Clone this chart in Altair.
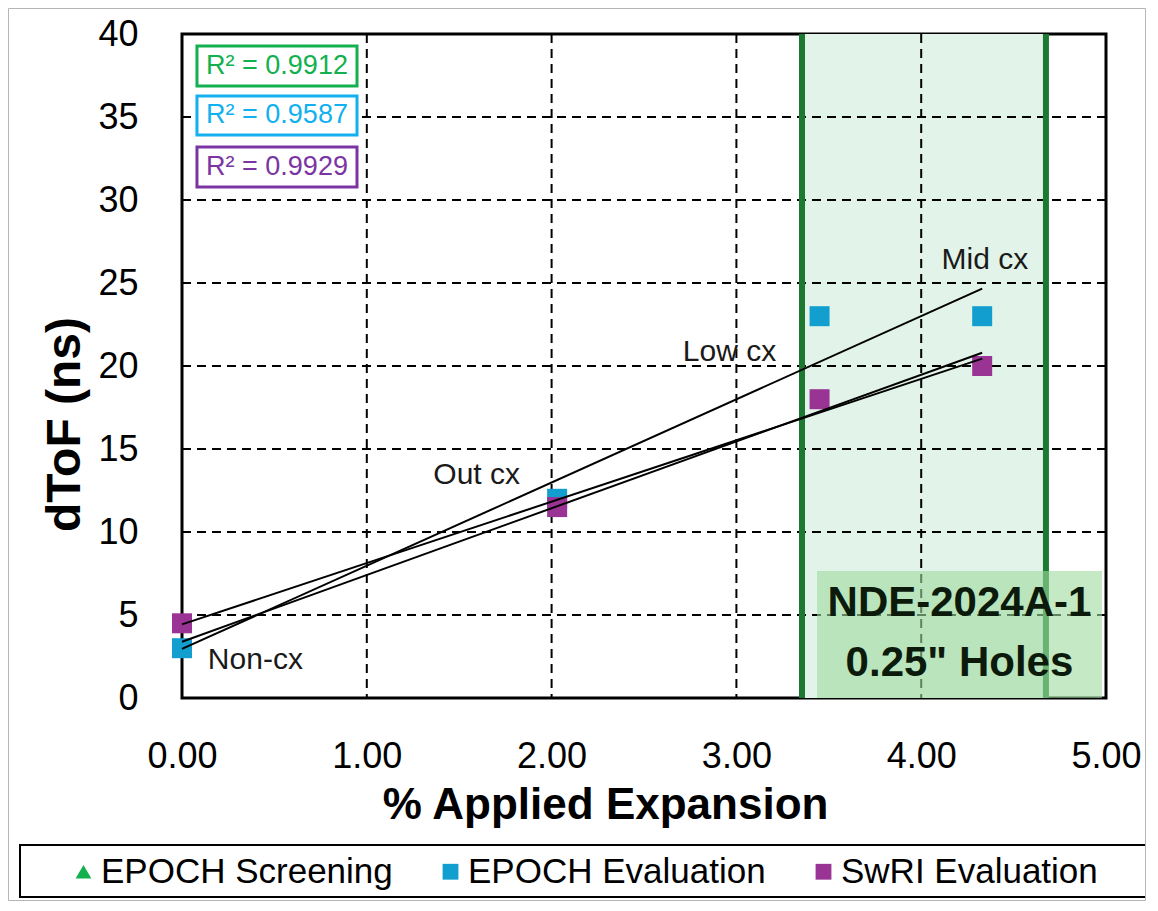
import altair as alt
import pandas as pd

# ---------------- data ----------------
series_names = ["EPOCH Screening", "EPOCH Evaluation", "SwRI Evaluation"]
series_colors = ["#14b04e", "#129fd0", "#993394"]
series_shapes = ["triangle-up", "square", "square"]

x_expansion = [0.0, 2.03, 3.45, 4.33]
screening_dtof = [3.0, 12.0, 18.0, 20.0]
epoch_eval_dtof = [3.0, 12.0, 23.0, 23.0]
swri_eval_dtof = [4.5, 11.5, 18.0, 20.0]

x_ticks = [0, 1, 2, 3, 4, 5]
y_ticks = [0, 5, 10, 15, 20, 25, 30, 35, 40]
x_grid = [1, 2, 3, 4]
y_grid = [5, 10, 15, 20, 25, 30, 35]

band_x = [3.355, 4.675]

r2_labels = ["R² = 0.9912", "R² = 0.9587", "R² = 0.9929"]
r2_colors = ["#12b04e", "#12b0ee", "#7a35a3"]
r2_top = [39.28, 36.27, 33.19]
r2_bottom = [36.87, 33.92, 30.78]
r2_left, r2_right = 0.081, 0.947

ann_text = ["Non-cx", "Out cx", "Low cx", "Mid cx"]
ann_x = [0.14, 1.36, 2.71, 4.11]
ann_y = [2.29, 13.43, 20.84, 26.39]

nde_lines = ["NDE-2024A-1", "0.25\" Holes"]
nde_line_y = [5.72, 2.11]
nde_box = [3.436, 4.978, 0.0, 7.65]  # x0, x1, y0, y1

# ---------------- tables ----------------
pts = pd.DataFrame({
    "x": x_expansion * 3,
    "y": screening_dtof + epoch_eval_dtof + swri_eval_dtof,
    "series": [series_names[0]] * 4 + [series_names[1]] * 4 + [series_names[2]] * 4,
})

X_TITLE = "% Applied Expansion"
Y_TITLE = "dToF (ns)"
FONT = "Liberation Sans"

xs = alt.Scale(domain=[0, 5], nice=False, zero=False)
ys = alt.Scale(domain=[0, 40], nice=False, zero=False)
xax = alt.Axis(values=x_ticks, format=".2f", grid=False, ticks=False, domain=False,
               labelFontSize=36, labelFont=FONT, labelColor="black", labelPadding=41,
               labelFlush=False, labelOverlap=False,
               title=X_TITLE, titleFontSize=44, titleFont=FONT, titleFontWeight="bold",
               titleColor="black", titleX=423, titleY=120, titleBaseline="alphabetic")
yax = alt.Axis(values=y_ticks, format="d", grid=False, ticks=False, domain=False,
               labelFontSize=36, labelFont=FONT, labelColor="black", labelPadding=44,
               labelFlush=False, labelOverlap=False,
               title=Y_TITLE, titleFontSize=48, titleFont=FONT, titleFontWeight="bold",
               titleColor="black", titleAngle=270, titleX=-103, titleY=390,
               titleBaseline="alphabetic", titleAlign="center")


def X(f):
    return alt.X(f, type="quantitative", scale=xs, axis=xax, title=X_TITLE)


def Y(f):
    return alt.Y(f, type="quantitative", scale=ys, axis=yax, title=Y_TITLE)


band = alt.Chart(pd.DataFrame({"x0": [band_x[0]], "x1": [band_x[1]], "y0": [0], "y1": [40]})).mark_rect(
    color="#e2f4e9").encode(x=X("x0"), x2="x1", y=Y("y0"), y2="y1")

vgrid = alt.Chart(pd.DataFrame({"gx": x_grid})).mark_rule(
    color="black", strokeWidth=2, strokeDash=[9, 6]).encode(x=X("gx"))
hgrid = alt.Chart(pd.DataFrame({"gy": y_grid})).mark_rule(
    color="black", strokeWidth=2, strokeDash=[9, 6]).encode(y=Y("gy"))

band_edges = alt.Chart(pd.DataFrame({"bx": band_x})).mark_rule(
    color="#1b7a30", strokeWidth=6).encode(x=X("bx"))

color_enc = alt.Color("series:N", scale=alt.Scale(domain=series_names, range=series_colors),
                      legend=alt.Legend(title=None, orient="none", legendX=-116, legendY=820,
                                        direction="horizontal", labelFontSize=35, labelFont=FONT,
                                        labelColor="black", symbolSize=250, labelOffset=0,
                                        columnPadding=40, padding=0, labelLimit=600,
                                        symbolStrokeWidth=0))
shape_enc = alt.Shape("series:N", scale=alt.Scale(domain=series_names, range=series_shapes))

tri_points = alt.Chart(pts).transform_filter(
    alt.datum.series == series_names[0]
).mark_point(filled=True, opacity=1, strokeWidth=0, size=150).encode(
    x=X("x"), y=Y("y"), color=color_enc, shape=shape_enc)

sq_points = alt.Chart(pts).transform_filter(
    alt.datum.series != series_names[0]
).mark_point(filled=True, opacity=1, strokeWidth=0, size=400).encode(
    x=X("x"), y=Y("y"), color=color_enc, shape=shape_enc)

trend = alt.Chart(pts).transform_regression("x", "y", groupby=["series"]).mark_line(
    color="black", strokeWidth=2).encode(x=X("x"), y=Y("y"), detail="series:N")

r2_df = pd.DataFrame({"t": r2_labels, "c": r2_colors, "top": r2_top, "bot": r2_bottom,
                      "l": [r2_left] * 3, "r": [r2_right] * 3,
                      "xc": [(r2_left + r2_right) / 2] * 3,
                      "yc": [(a + b) / 2 for a, b in zip(r2_top, r2_bottom)]})
r2_box = alt.Chart(r2_df).mark_rect(fill="white", strokeWidth=3).encode(
    x=X("l"), x2="r", y=Y("top"), y2="bot", stroke=alt.Color("c:N", scale=None))
r2_text = alt.Chart(r2_df).mark_text(fontSize=27, font=FONT, align="center", baseline="middle").encode(
    x=X("xc"), y=Y("yc"), text="t:N", color=alt.Color("c:N", scale=None))

ann = alt.Chart(pd.DataFrame({"t": ann_text, "x": ann_x, "y": ann_y})).mark_text(
    fontSize=30, font=FONT, align="left", baseline="middle", color="#1a1a1a").encode(
    x=X("x"), y=Y("y"), text="t:N")

nde_rect = alt.Chart(pd.DataFrame({"x0": [nde_box[0]], "x1": [nde_box[1]], "y0": [nde_box[2]], "y1": [nde_box[3]]})).mark_rect(
    fill="#9fd89f", fillOpacity=0.6).encode(x=X("x0"), x2="x1", y=Y("y0"), y2="y1")
nde_text = alt.Chart(pd.DataFrame({"t": nde_lines, "y": nde_line_y, "x": [(nde_box[0] + nde_box[1]) / 2] * 2})).mark_text(
    fontSize=42, font=FONT, fontWeight="bold", align="center", baseline="middle", color="#0c1a0c").encode(
    x=X("x"), y=Y("y"), text="t:N")

one = pd.DataFrame({"k": [0]})
legend_frame = alt.Chart(one).mark_rect(filled=False, stroke="black", strokeWidth=2).encode(
    x=alt.value(-162), x2=alt.value(964), y=alt.value(811), y2=alt.value(863))
outer_frame = alt.Chart(one).mark_rect(filled=False, stroke="#b5b5b5", strokeWidth=1).encode(
    x=alt.value(-173.5), x2=alt.value(963.5), y=alt.value(-25.5), y2=alt.value(866.5))

chart = alt.layer(
    band, vgrid, hgrid, band_edges, tri_points, sq_points, trend, r2_box, r2_text, ann,
    nde_rect, nde_text, legend_frame, outer_frame
).properties(
    width=924, height=664,
    padding={"left": 174, "top": 26, "right": 40, "bottom": 203},
    autosize=alt.AutoSizeParams(type="none"),
).configure_view(
    stroke="black", strokeWidth=3
)

chart.save("out.html", embed_options={"renderer": "svg", "actions": False})
